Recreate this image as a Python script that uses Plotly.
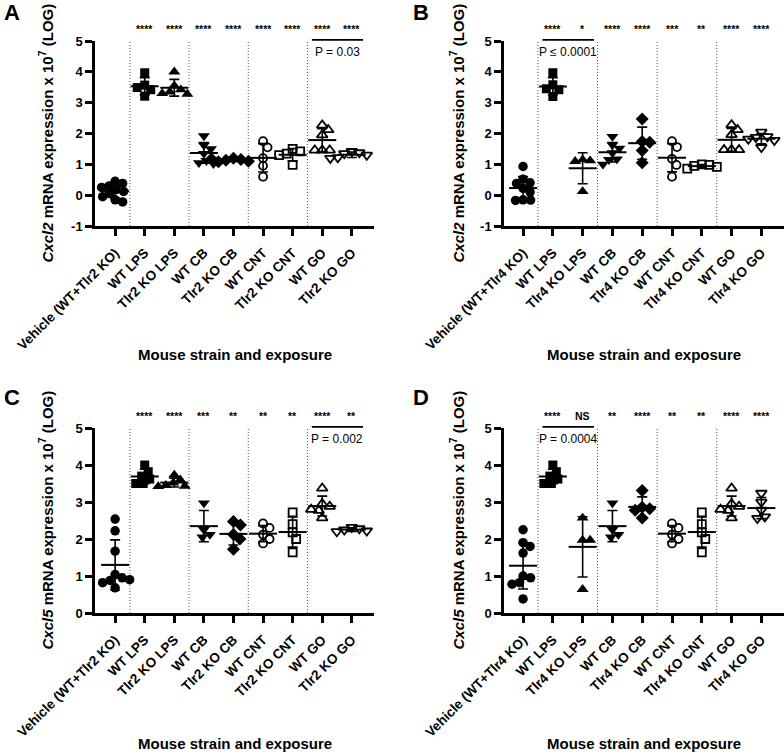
import numpy as np
import plotly.graph_objects as go

W, H = 784, 752
FONT = "Liberation Sans, Arial, sans-serif"

# ---------------- data ----------------
cats_tlr2 = ["Vehicle (WT+Tlr2 KO)", "WT LPS", "Tlr2 KO LPS", "WT CB", "Tlr2 KO CB",
             "WT CNT", "Tlr2 KO CNT", "WT GO", "Tlr2 KO GO"]
cats_tlr4 = ["Vehicle (WT+Tlr4 KO)", "WT LPS", "Tlr4 KO LPS", "WT CB", "Tlr4 KO CB",
             "WT CNT", "Tlr4 KO CNT", "WT GO", "Tlr4 KO GO"]

yticks_cxcl2 = [-1, 0, 1, 2, 3, 4, 5]
yticks_cxcl5 = [0, 1, 2, 3, 4, 5]

# Panel A: Cxcl2, Tlr2
a_values = [
    [0.45, 0.38, 0.30, 0.25, 0.18, 0.12, 0.05, -0.05, -0.15, -0.22],
    [3.97, 3.57, 3.42, 3.21, 3.49],
    [4.00, 3.55, 3.42, 3.35, 3.30, 3.28],
    [1.92, 1.62, 1.50, 1.35, 1.12, 1.05, 1.02],
    [1.20, 1.16, 1.13, 1.10, 1.08, 1.17],
    [1.75, 1.55, 1.20, 0.95, 0.60],
    [1.50, 1.42, 1.35, 1.30, 0.98],
    [2.27, 2.12, 1.95, 1.46, 1.46, 1.46],
    [1.42, 1.38, 1.35, 1.30, 1.22, 1.20],
]
# Panel B: Cxcl2, Tlr4
b_values = [
    [0.93, 0.52, 0.40, 0.38, 0.22, 0.10, -0.15, -0.16, -0.17],
    [3.97, 3.58, 3.42, 3.20, 3.45],
    [1.15, 1.12, 1.10, 0.12],
    [1.90, 1.63, 1.52, 1.37, 1.17, 1.15, 1.00],
    [2.47, 1.74, 1.72, 1.45, 1.05],
    [1.75, 1.56, 1.18, 0.98, 0.60],
    [1.00, 0.98, 0.95, 0.92, 0.86],
    [2.28, 2.12, 1.96, 1.47, 1.47, 1.47],
    [2.05, 1.90, 1.88, 1.82, 1.78, 1.55],
]
# Panel C: Cxcl5, Tlr2
c_values = [
    [2.54, 2.22, 1.67, 1.04, 0.95, 0.88, 0.82, 0.68, 0.90],
    [4.00, 3.82, 3.70, 3.62, 3.50, 3.50],
    [3.73, 3.60, 3.52, 3.45, 3.43, 3.42],
    [2.97, 2.25, 2.12, 2.05],
    [2.47, 2.38, 2.12, 2.00, 1.72],
    [2.42, 2.30, 2.12, 2.00, 1.88],
    [2.72, 2.40, 2.18, 2.00, 1.64],
    [3.37, 2.95, 2.88, 2.77, 2.57, 2.80],
    [2.32, 2.28, 2.25, 2.22, 2.20],
]
# Panel D: Cxcl5, Tlr4
d_values = [
    [2.25, 1.90, 1.80, 1.62, 1.00, 0.95, 0.82, 0.78, 0.38],
    [4.00, 3.82, 3.70, 3.62, 3.50, 3.50],
    [2.57, 1.97, 1.97, 0.64],
    [2.97, 2.25, 2.12, 2.05],
    [3.31, 2.86, 2.82, 2.78, 2.57],
    [2.42, 2.30, 2.12, 2.00, 1.88],
    [2.72, 2.40, 2.18, 2.00, 1.64],
    [3.37, 2.95, 2.88, 2.77, 2.57, 2.80],
    [3.24, 3.00, 2.78, 2.60, 2.56],
]

a_sig = ["", "****", "****", "****", "****", "****", "****", "****", "****"]
b_sig = ["", "****", "*", "****", "****", "***", "**", "****", "****"]
c_sig = ["", "****", "****", "***", "**", "**", "**", "****", "**"]
d_sig = ["", "****", "NS", "**", "****", "**", "**", "****", "****"]

a_pval = ("P = 0.03", 7, 8)
b_pval = ("P \u2264 0.0001", 1, 2)
c_pval = ("P = 0.002", 7, 8)
d_pval = ("P = 0.0004", 1, 2)

# ---------------- styling ----------------
symbols = ["circle", "square", "triangle-up", "triangle-down", "diamond",
           "circle-open", "square-open", "triangle-up-open", "triangle-down-open"]
msizes = [9.5, 9, 10.5, 10.5, 10, 8, 8, 9.5, 9.5]
mlw = [0, 0, 0, 0, 0, 1.8, 1.8, 1.8, 1.8]


def px(xp):
    return xp / W


def py(yp):
    return 1 - yp / H


panels = [
    dict(letter="A", gene="Cxcl2", cats=cats_tlr2, values=a_values, sig=a_sig, pval=a_pval,
         xa="x", ya="y", xdom=(95, 374), ydom=(41, 226), xr=(-0.68, 8.75), yt=yticks_cxcl2,
         letter_pos=(2, 12.5), ytitle_x=46, xtitle_y=354),
    dict(letter="B", gene="Cxcl2", cats=cats_tlr4, values=b_values, sig=b_sig, pval=b_pval,
         xa="x2", ya="y2", xdom=(504, 784), ydom=(41, 226), xr=(-0.64, 8.76), yt=yticks_cxcl2,
         letter_pos=(411, 12.5), ytitle_x=457, xtitle_y=355),
    dict(letter="C", gene="Cxcl5", cats=cats_tlr2, values=c_values, sig=c_sig, pval=c_pval,
         xa="x3", ya="y3", xdom=(95, 374), ydom=(428, 613), xr=(-0.68, 8.75), yt=yticks_cxcl5,
         letter_pos=(2, 397.5), ytitle_x=46, xtitle_y=743),
    dict(letter="D", gene="Cxcl5", cats=cats_tlr4, values=d_values, sig=d_sig, pval=d_pval,
         xa="x4", ya="y4", xdom=(504, 784), ydom=(428, 613), xr=(-0.64, 8.76), yt=yticks_cxcl5,
         letter_pos=(411, 397.5), ytitle_x=457, xtitle_y=743),
]


def swarm(vals, ppx, ppy, diam=7.5):
    """Deterministic beeswarm offsets (category units), allowing partial overlap."""
    placed = []
    offs = []
    for v in vals:
        yp = v * ppy
        best = None
        for k in range(0, 80):
            for sgn in ([0] if k == 0 else [1, -1]):
                xo = sgn * k * 0.5
                if all((xo - a) ** 2 + (yp - b) ** 2 >= diam ** 2 for a, b in placed):
                    best = xo
                    break
            if best is not None:
                break
        placed.append((best, yp))
        offs.append(best / ppx)
    return offs


fig = go.Figure()
layout = dict(width=W, height=H, margin=dict(l=0, r=0, t=0, b=0), template="none",
              paper_bgcolor="white", plot_bgcolor="white", showlegend=False,
              font=dict(family=FONT, color="black"))
shapes = []
annotations = []

for p in panels:
    xa, ya = p["xa"], p["ya"]
    xkey = "xaxis" + xa[1:]
    ykey = "yaxis" + ya[1:]
    yr = (min(p["yt"]), max(p["yt"]))
    ppx = (p["xdom"][1] - p["xdom"][0]) / (p["xr"][1] - p["xr"][0])
    ppy = (p["ydom"][1] - p["ydom"][0]) / (yr[1] - yr[0])

    layout[xkey] = dict(domain=[px(p["xdom"][0]), px(p["xdom"][1])], range=list(p["xr"]),
                        anchor=ya, tickmode="array", tickvals=list(range(len(p["cats"]))),
                        ticktext=p["cats"], tickangle=-45, ticks="outside", ticklen=7,
                        tickwidth=2.5, tickcolor="black", showline=True, linewidth=2.5,
                        linecolor="black", showgrid=False, zeroline=False, automargin=False,
                        ticklabelstandoff=4,
                        tickfont=dict(family=FONT, size=13.5, color="black", weight="bold"))
    layout[ykey] = dict(domain=[py(p["ydom"][1]), py(p["ydom"][0])], range=list(yr),
                        anchor=xa, tickmode="array", tickvals=p["yt"],
                        ticktext=[str(t) for t in p["yt"]], ticks="outside", ticklen=7,
                        tickwidth=2.5, tickcolor="black", showline=True, linewidth=2.5,
                        linecolor="black", showgrid=False, zeroline=False, automargin=False,
                        tickfont=dict(family=FONT, size=13, color="black", weight="bold"))

    # dotted separators
    for k in [0.5, 2.5, 4.5, 6.5]:
        shapes.append(dict(type="line", xref=xa, yref=ya + " domain", x0=k, x1=k, y0=0, y1=1,
                           line=dict(color="#555555", width=1, dash="1px,2px"), layer="below"))

    for i, vals in enumerate(p["values"]):
        offs = swarm(vals, ppx, ppy)
        fig.add_trace(go.Scatter(
            x=[i + o for o in offs], y=vals, mode="markers", xaxis=xa, yaxis=ya,
            marker=dict(symbol=symbols[i], size=msizes[i], color="black",
                        line=dict(color="black", width=mlw[i])),
            hoverinfo="skip"))
        m = float(np.mean(vals))
        sd = float(np.std(vals, ddof=1))
        fig.add_trace(go.Scatter(
            x=[i], y=[m], mode="markers", xaxis=xa, yaxis=ya,
            marker=dict(symbol="line-ew", size=20, color="black",
                        line=dict(color="black", width=2)),
            error_y=dict(type="data", array=[sd], visible=True, color="black",
                         thickness=1.6, width=5),
            hoverinfo="skip"))
        if p["sig"][i]:
            annotations.append(dict(xref=xa, yref=ya + " domain", x=i, y=1, yanchor="middle",
                                    yshift=12, text="<b>%s</b>" % p["sig"][i], showarrow=False,
                                    font=dict(family=FONT, size=10.5, color="black")))

    # p-value bracket
    ptxt, ga, gb = p["pval"]
    x0, x1 = ga - 0.35, gb + 0.38
    shapes.append(dict(type="line", xref=xa, yref=ya + " domain", x0=x0, x1=x1,
                       y0=1.006, y1=1.006, line=dict(color="black", width=1.6)))
    annotations.append(dict(xref=xa, yref=ya + " domain", x=(x0 + x1) / 2, y=1,
                            yanchor="middle", yshift=-11, text=ptxt, showarrow=False,
                            font=dict(family=FONT, size=12, color="black")))

    # titles
    ymid = (p["ydom"][0] + p["ydom"][1]) / 2
    annotations.append(dict(xref="paper", yref="paper", x=px(p["ytitle_x"]), y=py(ymid),
                            xanchor="center", yanchor="middle", textangle=-90, showarrow=False,
                            text="<b><i>%s</i> mRNA expression x 10<sup>7</sup> (LOG)</b>" % p["gene"],
                            font=dict(family=FONT, size=15, color="black")))
    xmid = (p["xdom"][0] + p["xdom"][1]) / 2
    annotations.append(dict(xref="paper", yref="paper", x=px(xmid), y=py(p["xtitle_y"]),
                            xanchor="center", yanchor="middle", showarrow=False,
                            text="<b>Mouse strain and exposure</b>",
                            font=dict(family=FONT, size=15, color="black")))
    lx, ly = p["letter_pos"]
    annotations.append(dict(xref="paper", yref="paper", x=px(lx), y=py(ly),
                            xanchor="left", yanchor="middle", showarrow=False,
                            text="<b>%s</b>" % p["letter"],
                            font=dict(family=FONT, size=22, color="black")))

layout["shapes"] = shapes
layout["annotations"] = annotations
fig.update_layout(**layout)
fig.write_html("out.html", config={"displayModeBar": False},
               post_script="document.body.style.margin='0';document.body.style.overflow='hidden';")
